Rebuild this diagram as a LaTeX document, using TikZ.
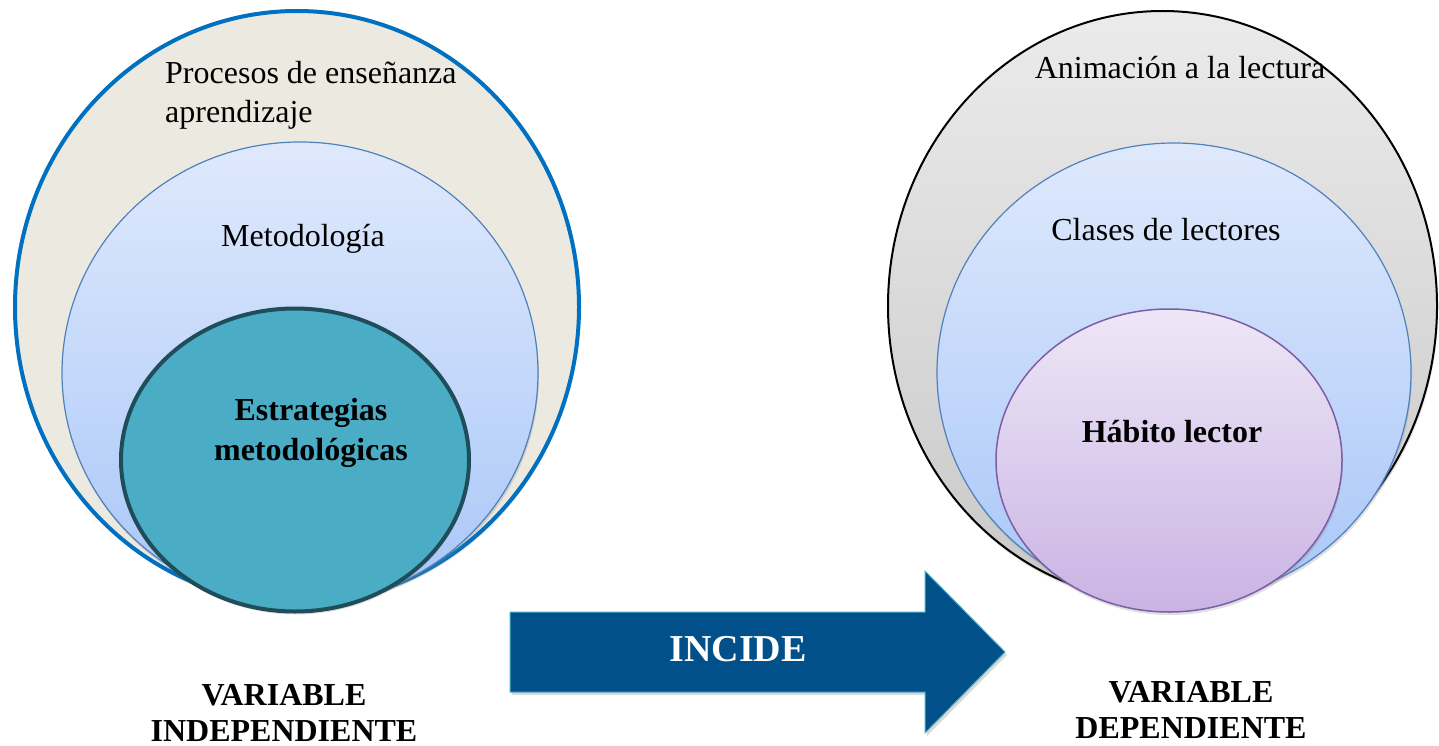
\documentclass[tikz,border=0pt]{standalone}
\usepackage{fontspec}
\setmainfont{Liberation Serif}
\usetikzlibrary{shapes.geometric,shadows}
\definecolor{outerbeige}{HTML}{ECEAE0}
\definecolor{outerblue}{HTML}{0070C0}
\definecolor{midtop}{HTML}{DFE9FC}
\definecolor{midbot}{HTML}{A9C7F8}
\definecolor{midline}{HTML}{4F81BD}
\definecolor{tealfill}{HTML}{4BACC6}
\definecolor{tealline}{HTML}{1F4D5A}
\definecolor{graytop}{HTML}{EBEBEB}
\definecolor{graybot}{HTML}{C8C8C8}
\definecolor{purtop}{HTML}{EEE7F6}
\definecolor{purbot}{HTML}{C9B3E4}
\definecolor{purline}{HTML}{7B5EA7}
\definecolor{arrowfill}{HTML}{02508A}
\definecolor{arrowline}{HTML}{4BACC6}
\begin{document}
\begin{tikzpicture}[x=1pt,y=-1pt,
  ell/.style={ellipse, inner sep=0pt, outer sep=0pt},
  softshadow/.style={drop shadow={opacity=0.25, shadow xshift=1pt, shadow yshift=-3pt}},
  regtext/.style={font=\fontsize{32}{39}\selectfont, inner sep=0pt},
  boldtext/.style={font=\fontsize{32}{40}\selectfont\bfseries, inner sep=0pt},
  labeltext/.style={font=\fontsize{32}{36}\selectfont\bfseries, inner sep=0pt, align=center}]
\useasboundingbox (0,0) rectangle (1439,746);
% left group
\node[ell, softshadow, fill=outerbeige, draw=outerblue, line width=4pt,
  minimum width=564pt, minimum height=592pt] (louter) at (297,307) {};
\node[ell, softshadow, top color=midtop, bottom color=midbot, draw=midline, line width=1.2pt,
  minimum width=476pt, minimum height=462pt] (lmid) at (300,373) {};
\node[ell, softshadow, fill=tealfill, draw=tealline, line width=4pt,
  minimum width=348pt, minimum height=303pt] (linner) at (295,460) {};
\node[regtext, anchor=north west, align=left] (lt1) at (165,61) {Procesos de enseñanza\\aprendizaje};
\node[regtext, anchor=base] (lt2) at (303,246) {Metodología};
\node[boldtext, anchor=north, align=center] (lt3) at (311,398) {Estrategias\\metodológicas};
% right group
\node[ell, softshadow, top color=graytop, bottom color=graybot, draw=black, line width=2pt,
  minimum width=549pt, minimum height=590pt] (router) at (1162.5,306) {};
\node[ell, softshadow, top color=midtop, bottom color=midbot, draw=midline, line width=1.2pt,
  minimum width=474pt, minimum height=459pt] (rmid) at (1174,372.5) {};
\node[ell, softshadow, top color=purtop, bottom color=purbot, draw=purline, line width=1.5pt,
  minimum width=346pt, minimum height=303pt] (rinner) at (1169,460.5) {};
\node[regtext, anchor=base] (rt1) at (1180,79) {Animación a la lectura};
\node[regtext, anchor=base] (rt2) at (1166,240) {Clases de lectores};
\node[boldtext, anchor=base] (rt3) at (1172,442) {Hábito lector};
% arrow
\path[drop shadow={opacity=0.3, shadow xshift=2pt, shadow yshift=-3pt}, fill=arrowfill, draw=arrowline, line width=1pt]
  (510,612) -- (925,612) -- (925,571) -- (1005,652) -- (925,733) -- (925,692) -- (510,692) -- cycle;
\node[font=\fontsize{38}{40}\selectfont\bfseries, text=white, inner sep=0pt, anchor=base] (incide) at (738,661) {INCIDE};
% labels
\node[labeltext, anchor=north] (lvar) at (284,684) {VARIABLE\\INDEPENDIENTE};
\node[labeltext, anchor=north] (rvar) at (1191,681) {VARIABLE\\DEPENDIENTE};
\end{tikzpicture}
\end{document}
